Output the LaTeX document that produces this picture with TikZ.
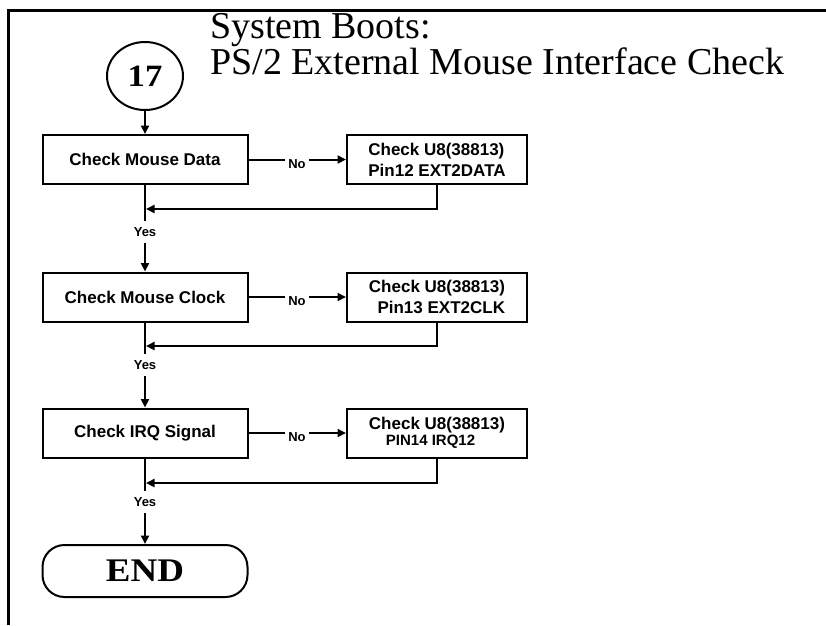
\documentclass[tikz,border=0pt]{standalone}
\usepackage{graphicx}
\usepackage{fontspec}
\setmainfont{Liberation Serif}
\setsansfont{Liberation Sans}
\usetikzlibrary{arrows.meta,shapes.geometric}
\begin{document}
\begin{tikzpicture}[x=1pt,y=-1pt,
  box/.style={draw,line width=2pt,minimum width=205pt,minimum height=49pt,inner sep=0pt,
    font=\fontsize{17}{21}\selectfont\sffamily\bfseries},
  rbox/.style={draw,line width=2pt,minimum width=180pt,minimum height=49pt,inner sep=0pt,
    font=\fontsize{17}{21}\selectfont\sffamily\bfseries},
  lbl/.style={font=\fontsize{13}{13}\selectfont\sffamily\bfseries,inner xsep=3pt,inner ysep=0pt},
  yeslbl/.style={lbl,minimum height=22pt},
  conn/.style={line width=2pt},
  arr/.style={conn,-{Triangle[length=8.5pt,width=8pt]}},
  titlefont/.style={anchor=base west,inner sep=0pt,font=\fontsize{38}{38}\selectfont}]
\useasboundingbox (0,0) rectangle (826,625);
\draw[line width=3pt] (8,625) -- (8,10) -- (826,10);

\node[titlefont] (t1) at (210,38) {System Boots:};
\node[titlefont] (t2) at (210,74) {PS/2 External Mouse Interface Check};

\node[draw,ellipse,line width=2pt,minimum width=76pt,minimum height=68pt,inner sep=0pt] (c17) at (145,76)
  {\fontsize{31}{31}\selectfont\bfseries\scalebox{1.12}[1]{17}};

% row 1
\node[box] (b1) at (145,159.5) {Check Mouse Data};
\node[rbox,align=left] (r1) at (437,159.5) {Check U8(38813)\\Pin12 EXT2DATA};
\node[lbl] (n1) at (297,164) {No};
\node[yeslbl] (y1) at (145,232) {Yes};
\coordinate (j1) at (146,209);

% row 2
\node[box] (b2) at (145,297) {Check Mouse Clock};
\node[rbox,align=right] (r2) at (437,297) {Check U8(38813)\\Pin13 EXT2CLK};
\node[lbl] (n2) at (297,301) {No};
\node[yeslbl] (y2) at (145,365) {Yes};
\coordinate (j2) at (146,346);

% row 3
\node[box] (b3) at (145,433) {Check IRQ Signal};
\node[rbox,align=left] (r3) at (437,433) {Check U8(38813)\\[-5pt]\hspace*{17pt}{\fontsize{15}{15}\selectfont PIN14 IRQ12}};
\node[lbl] (n3) at (297,437) {No};
\node[yeslbl] (y3) at (145,502) {Yes};
\coordinate (j3) at (146,483);

\node[draw,rounded corners=22pt,line width=2pt,minimum width=205pt,minimum height=52pt,inner sep=0pt] (end) at (145,571)
  {\fontsize{33}{33}\selectfont\bfseries\scalebox{1.12}[1]{END}};

\draw[arr] (c17.south) -- (b1.north);

\draw[conn] (b1.east) -- (n1.west |- b1.east);
\draw[arr] (n1.east |- b1.east) -- (r1.west);
\draw[arr] (r1.south) |- (j1);
\draw[conn] (b1.south) -- (y1.north);
\draw[arr] (y1.south) -- (b2.north);

\draw[conn] (b2.east) -- (n2.west |- b2.east);
\draw[arr] (n2.east |- b2.east) -- (r2.west);
\draw[arr] (r2.south) |- (j2);
\draw[conn] (b2.south) -- (y2.north);
\draw[arr] (y2.south) -- (b3.north);

\draw[conn] (b3.east) -- (n3.west |- b3.east);
\draw[arr] (n3.east |- b3.east) -- (r3.west);
\draw[arr] (r3.south) |- (j3);
\draw[conn] (b3.south) -- (y3.north);
\draw[arr] (y3.south) -- (end.north);
\end{tikzpicture}
\end{document}
